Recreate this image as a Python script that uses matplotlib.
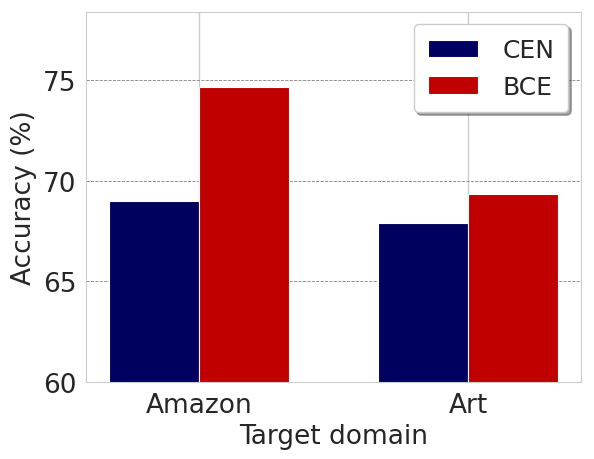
import numpy as np
import matplotlib
matplotlib.use("Agg")
import matplotlib.pyplot as plt
import seaborn as sns

# data
domains = ["Amazon", "Art"]
cen_acc = [69.0, 67.9]
bce_acc = [74.65, 69.35]

sns.set_style("whitegrid")
plt.rcParams['font.family'] = ['DejaVu Sans']

fig = plt.figure(figsize=(5.94, 4.6), dpi=100)
ax = fig.add_axes([0.145, 0.167, 0.833, 0.805])

x = np.arange(len(domains))
width = 0.335
ax.bar(x - width / 2, cen_acc, width, color='#00005f', edgecolor='white', linewidth=0.8, label='CEN', zorder=2)
ax.bar(x + width / 2, bce_acc, width, color='#c00000', edgecolor='white', linewidth=0.8, label='BCE', zorder=2)

ax.set_ylim(bottom=60)
ax.set_xticks(x)
ax.set_xticklabels(domains)
ax.tick_params(labelsize=19)
ax.set_xlabel('Target domain', fontsize=19)
ax.set_ylabel('Accuracy (%)', fontsize=19)

ax.yaxis.grid(True, linestyle='--', color='gray', linewidth=0.6)
ax.xaxis.grid(True, color='#cccccc', linewidth=1)
ax.set_axisbelow(True)

leg = ax.legend(loc='upper right', fontsize=18, fancybox=True, shadow=True,
                framealpha=1, handletextpad=1.0, borderaxespad=0.5,
                borderpad=0.55)
leg.get_frame().set_edgecolor('#cccccc')

fig.savefig('out.png', dpi=100)
